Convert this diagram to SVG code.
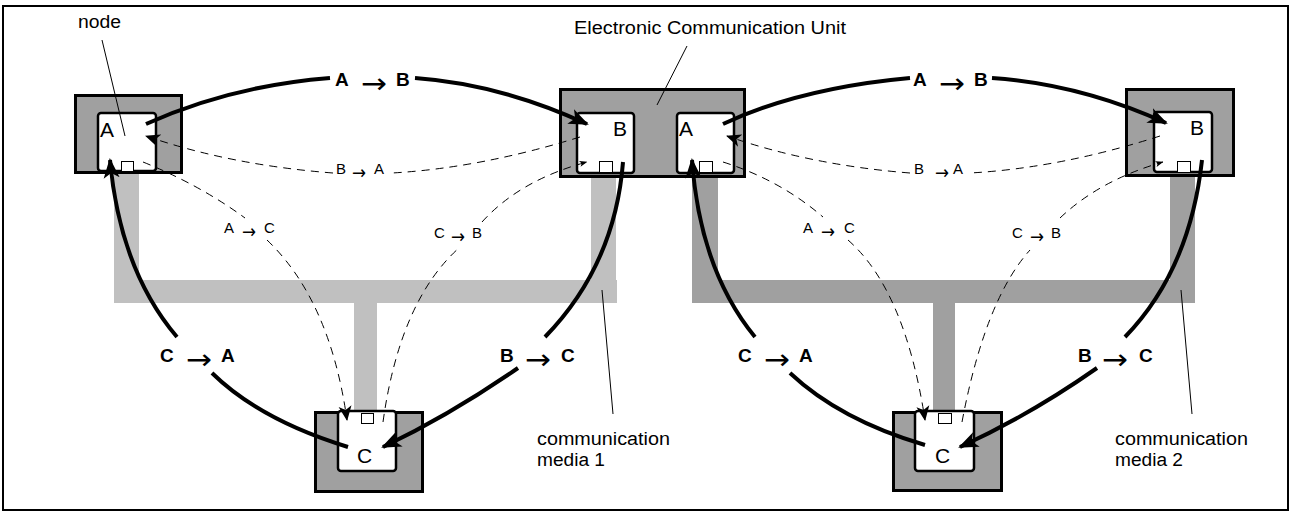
<svg xmlns="http://www.w3.org/2000/svg" width="1292" height="513" viewBox="0 0 1292 513">
<defs>
<style>
.frame{fill:#fff;stroke:#000;stroke-width:2}
.m1{fill:#c0c0c0}
.m2{fill:#a0a0a0}
.outer{fill:#a0a0a0;stroke:#000;stroke-width:3}
.inner{fill:#fff;stroke:#000;stroke-width:2.5}
.port{fill:#fff;stroke:#000;stroke-width:1}
text{font-family:"Liberation Sans",Arial,sans-serif;fill:#000}
.nl{font-size:21px}
.lbl{font-size:18px}
.bl{font-size:19px;font-weight:bold}
.ba{font-family:"DejaVu Sans",sans-serif;font-size:28px}
.dl{font-size:15px}
.da{font-family:"DejaVu Sans",sans-serif;font-size:19px}
.bold{fill:none;stroke:#000;stroke-width:4}
.dash{fill:none;stroke:#000;stroke-width:1;stroke-dasharray:8 6}
.lead{fill:none;stroke:#000;stroke-width:1}
</style>
<marker id="hb" markerUnits="userSpaceOnUse" markerWidth="20" markerHeight="20" viewBox="0 0 20 20" refX="18" refY="10" orient="auto"><path d="M0,2 L20,10 L0,18 L5,10 z" fill="#000"/></marker>
<marker id="hd" markerUnits="userSpaceOnUse" markerWidth="15" markerHeight="15" viewBox="0 0 15 15" refX="14" refY="7.5" orient="auto"><path d="M0,1 L15,7.5 L0,14 L4,7.5 z" fill="#000"/></marker>
<marker id="hs" markerUnits="userSpaceOnUse" markerWidth="8" markerHeight="8" viewBox="0 0 8 8" refX="7.5" refY="4" orient="auto"><path d="M0,1 L8,4 L0,7 L2,4 z" fill="#000"/></marker>
</defs>

<rect class="frame" x="3" y="6" width="1285" height="504"/>

<g id="media1">
<rect class="m1" x="114" y="172" width="25" height="131"/>
<rect class="m1" x="114" y="280" width="503" height="23"/>
<rect class="m1" x="591" y="176" width="25" height="127"/>
<rect class="m1" x="354" y="303" width="23" height="108"/>
</g>
<g id="media2">
<rect class="m2" x="692" y="176" width="26" height="127"/>
<rect class="m2" x="692" y="280" width="503" height="23"/>
<rect class="m2" x="1170" y="174" width="25" height="129"/>
<rect class="m2" x="933" y="303" width="22" height="108"/>
</g>

<g id="node-A">
<rect class="outer" x="75.5" y="95.5" width="106" height="77"/>
<rect class="inner" x="98" y="113" width="58" height="58" rx="3"/>
<rect class="port" x="121.5" y="161.5" width="12" height="10"/>
<text class="nl" x="100" y="137">A</text>
</g>

<g id="ecu">
<rect class="outer" x="560.5" y="89.5" width="184" height="87"/>
<rect class="inner" x="577" y="113" width="57" height="60" rx="3"/>
<rect class="inner" x="677" y="113" width="57" height="60" rx="3"/>
<rect class="port" x="599.5" y="161.5" width="13" height="11"/>
<rect class="port" x="699.5" y="161.5" width="13" height="11"/>
<text class="nl" x="613" y="136">B</text>
<text class="nl" x="679" y="136">A</text>
</g>

<g id="node-B">
<rect class="outer" x="1126.5" y="89.5" width="107" height="86"/>
<rect class="inner" x="1154" y="112" width="58" height="60" rx="3"/>
<rect class="port" x="1177.5" y="161.5" width="13" height="11"/>
<text class="nl" x="1190" y="135">B</text>
</g>

<g id="node-C1">
<rect class="outer" x="315.5" y="412.5" width="107" height="79"/>
<rect class="inner" x="338" y="411" width="58" height="60" rx="3"/>
<rect class="port" x="361.5" y="413.5" width="12" height="10"/>
<text class="nl" x="357" y="463">C</text>
</g>

<g id="node-C2">
<rect class="outer" x="893.5" y="412.5" width="108" height="78"/>
<rect class="inner" x="915" y="411" width="59" height="60" rx="3"/>
<rect class="port" x="938.5" y="413.5" width="13" height="10"/>
<text class="nl" x="935" y="463">C</text>
</g>

<g id="annotations">
<line class="lead" x1="102" y1="40" x2="125" y2="136"/>
<line class="lead" x1="687" y1="46" x2="657" y2="105"/>
<line class="lead" x1="602" y1="290" x2="613" y2="414"/>
<line class="lead" x1="1181" y1="290" x2="1192" y2="414"/>
<text class="lbl" x="78" y="28" textLength="43" lengthAdjust="spacingAndGlyphs">node</text>
<text class="lbl" x="574" y="34" textLength="272" lengthAdjust="spacingAndGlyphs">Electronic Communication Unit</text>
<text class="lbl" x="537" y="445" textLength="133" lengthAdjust="spacingAndGlyphs">communication</text>
<text class="lbl" x="537" y="466" textLength="68" lengthAdjust="spacingAndGlyphs">media 1</text>
<text class="lbl" x="1115" y="445" textLength="133" lengthAdjust="spacingAndGlyphs">communication</text>
<text class="lbl" x="1115" y="466" textLength="68" lengthAdjust="spacingAndGlyphs">media 2</text>
</g>

<g id="connectors">
<path class="bold" d="M146,124 Q230,86 330,78"/>
<path class="bold" d="M415,78 Q500,84 587,124" marker-end="url(#hb)"/>
<path class="bold" d="M723,124 Q800,88 910,78"/>
<path class="bold" d="M992,78 Q1080,84 1166,123" marker-end="url(#hb)"/>
<path class="bold" d="M348,447 Q260,420 212,373"/>
<path class="bold" d="M177,337 Q120,270 110,160" marker-end="url(#hb)"/>
<path class="bold" d="M623,162 Q615,265 545,337"/>
<path class="bold" d="M518,368 Q450,415 383,447" marker-end="url(#hb)"/>
<path class="bold" d="M925,445 Q840,420 790,373"/>
<path class="bold" d="M755,337 Q700,270 692,160" marker-end="url(#hb)"/>
<path class="bold" d="M1202,160 Q1190,270 1125,337"/>
<path class="bold" d="M1097,368 Q1030,415 960,447" marker-end="url(#hb)"/>

<path class="dash" d="M580,137 Q480,168 392,173"/>
<path class="dash" d="M333,173 Q230,165 146,136" marker-end="url(#hd)"/>
<path class="dash" d="M1160,136 Q1060,168 970,173"/>
<path class="dash" d="M910,173 Q810,165 727,136" marker-end="url(#hd)"/>
<path class="dash" d="M143,162 Q200,185 245,218"/>
<path class="dash" d="M267,240 Q330,300 347,420" marker-end="url(#hd)"/>
<path class="dash" d="M383,422 Q400,300 460,247"/>
<path class="dash" d="M482,222 Q520,180 587,162" marker-end="url(#hs)"/>
<path class="dash" d="M723,162 Q780,180 823,217"/>
<path class="dash" d="M848,240 Q905,290 925,420" marker-end="url(#hd)"/>
<path class="dash" d="M962,422 Q985,300 1030,250"/>
<path class="dash" d="M1060,218 Q1100,180 1163,162" marker-end="url(#hs)"/>
</g>

<g id="connector-labels">
<text class="bl" x="335" y="86">A</text><text class="ba" x="361" y="93" textLength="26" lengthAdjust="spacingAndGlyphs">→</text><text class="bl" x="396" y="86">B</text>
<text class="bl" x="913" y="86">A</text><text class="ba" x="939" y="93" textLength="26" lengthAdjust="spacingAndGlyphs">→</text><text class="bl" x="974" y="86">B</text>
<text class="bl" x="160" y="362">C</text><text class="ba" x="186" y="369" textLength="26" lengthAdjust="spacingAndGlyphs">→</text><text class="bl" x="221" y="362">A</text>
<text class="bl" x="500" y="362">B</text><text class="ba" x="525" y="369" textLength="26" lengthAdjust="spacingAndGlyphs">→</text><text class="bl" x="561" y="362">C</text>
<text class="bl" x="738" y="362">C</text><text class="ba" x="764" y="369" textLength="26" lengthAdjust="spacingAndGlyphs">→</text><text class="bl" x="799" y="362">A</text>
<text class="bl" x="1078" y="362">B</text><text class="ba" x="1102" y="369" textLength="26" lengthAdjust="spacingAndGlyphs">→</text><text class="bl" x="1139" y="362">C</text>

<text class="dl" x="336" y="174">B</text><text class="da" x="352" y="179" textLength="14" lengthAdjust="spacingAndGlyphs">→</text><text class="dl" x="374" y="174">A</text>
<text class="dl" x="914" y="174">B</text><text class="da" x="935" y="179" textLength="14" lengthAdjust="spacingAndGlyphs">→</text><text class="dl" x="953" y="174">A</text>
<text class="dl" x="224" y="233">A</text><text class="da" x="242" y="238" textLength="14" lengthAdjust="spacingAndGlyphs">→</text><text class="dl" x="264" y="233">C</text>
<text class="dl" x="434" y="238">C</text><text class="da" x="451" y="243" textLength="14" lengthAdjust="spacingAndGlyphs">→</text><text class="dl" x="472" y="238">B</text>
<text class="dl" x="803" y="233">A</text><text class="da" x="821" y="238" textLength="14" lengthAdjust="spacingAndGlyphs">→</text><text class="dl" x="844" y="233">C</text>
<text class="dl" x="1012" y="238">C</text><text class="da" x="1030" y="243" textLength="14" lengthAdjust="spacingAndGlyphs">→</text><text class="dl" x="1051" y="238">B</text>
</g>
</svg>
